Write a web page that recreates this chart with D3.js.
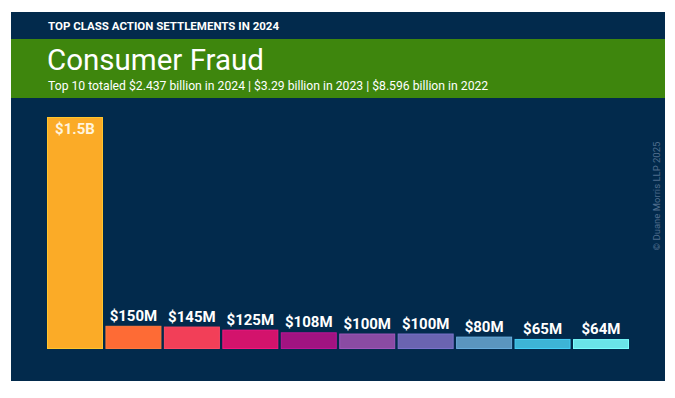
<!DOCTYPE html>
<html>
<head>
<meta charset="utf-8">
<script src="https://cdn.jsdelivr.net/npm/d3@7"></script>
<style>
  body { margin: 0; background: #fff; }
  svg { display: block; font-family: Roboto, "Noto Sans", sans-serif; }
</style>
</head>
<body>
<div id="chart"></div>
<script>
const WIDTH = 675;
const HEIGHT = 398;

// values in $M
const settlements = [1500, 150, 145, 125, 108, 100, 100, 80, 65, 64];
const valueLabels = ['$1.5B', '$150M', '$145M', '$125M', '$108M', '$100M', '$100M', '$80M', '$65M', '$64M'];
const barColors = ['#fbab27', '#fe6b35', '#f23f58', '#d3136c', '#a11381', '#8a4ba3', '#6a64b0', '#5a95bf', '#3db4d6', '#6ae3e8'];

const kicker = 'TOP CLASS ACTION SETTLEMENTS IN 2024';
const title = 'Consumer Fraud';
const subtitle = 'Top 10 totaled $2.437 billion in 2024 | $3.29 billion in 2023 | $8.596 billion in 2022';
const credit = '© Duane Morris LLP 2025';

const PANEL = { left: 11, top: 12, right: 665, bottom: 381 };
const PLOT = { left: 47, right: 629, top: 117, bottom: 349 };

let svg = d3.select('#chart')
  .append('svg')
  .attr('width', WIDTH)
  .attr('height', HEIGHT);

// background panel
svg.append('rect')
  .attr('x', PANEL.left)
  .attr('y', PANEL.top)
  .attr('width', PANEL.right - PANEL.left)
  .attr('height', PANEL.bottom - PANEL.top)
  .attr('fill', '#022a4c');

// green header band
svg.append('rect')
  .attr('x', PANEL.left)
  .attr('y', 39)
  .attr('width', PANEL.right - PANEL.left)
  .attr('height', 59)
  .attr('fill', '#3e860d');

svg.append('text')
  .attr('x', 48)
  .attr('y', 30)
  .attr('fill', '#fff')
  .attr('font-size', 11.5)
  .attr('font-weight', 700)
  .text(kicker);

svg.append('text')
  .attr('x', 47)
  .attr('y', 70)
  .attr('fill', '#fff')
  .attr('font-size', 29.5)
  .text(title);

svg.append('text')
  .attr('x', 48)
  .attr('y', 90)
  .attr('fill', '#fff')
  .attr('font-size', 12.2)
  .text(subtitle);

// scales
const xScale = d3.scaleBand()
  .domain(d3.range(settlements.length))
  .range([PLOT.left, PLOT.right])
  .paddingInner(0.042)
  .paddingOuter(0);

const yScale = d3.scaleLinear()
  .domain([0, 1500])
  .range([PLOT.bottom, PLOT.top]);

let bars = svg.append('g').attr('id', 'bars');

bars.selectAll('rect')
  .data(settlements)
  .join('rect')
  .attr('x', (d, i) => xScale(i) + 0.5)
  .attr('y', d => yScale(d) + 0.5)
  .attr('width', xScale.bandwidth() - 1)
  .attr('height', d => yScale(0) - yScale(d) - 1)
  .attr('fill', (d, i) => barColors[i])
  .attr('stroke', (d, i) => d3.color(barColors[i]).brighter(0.4))
  .attr('stroke-width', 1);

// labels: above bar, except the tall one gets its label inside
bars.selectAll('text')
  .data(settlements)
  .join('text')
  .attr('x', (d, i) => xScale(i) + xScale.bandwidth() / 2)
  .attr('y', (d, i) => i === 0 ? yScale(d) + 17 : yScale(d) - 5)
  .attr('text-anchor', 'middle')
  .attr('fill', (d, i) => i === 0 ? '#fff4dd' : '#fff')
  .attr('font-size', 15)
  .attr('font-weight', 700)
  .text((d, i) => valueLabels[i]);

// vertical credit
svg.append('text')
  .attr('transform', 'translate(660, 196) rotate(-90)')
  .attr('text-anchor', 'middle')
  .attr('fill', '#4f6d8d')
  .attr('font-size', 9.5)
  .text(credit);
</script>
</body>
</html>
